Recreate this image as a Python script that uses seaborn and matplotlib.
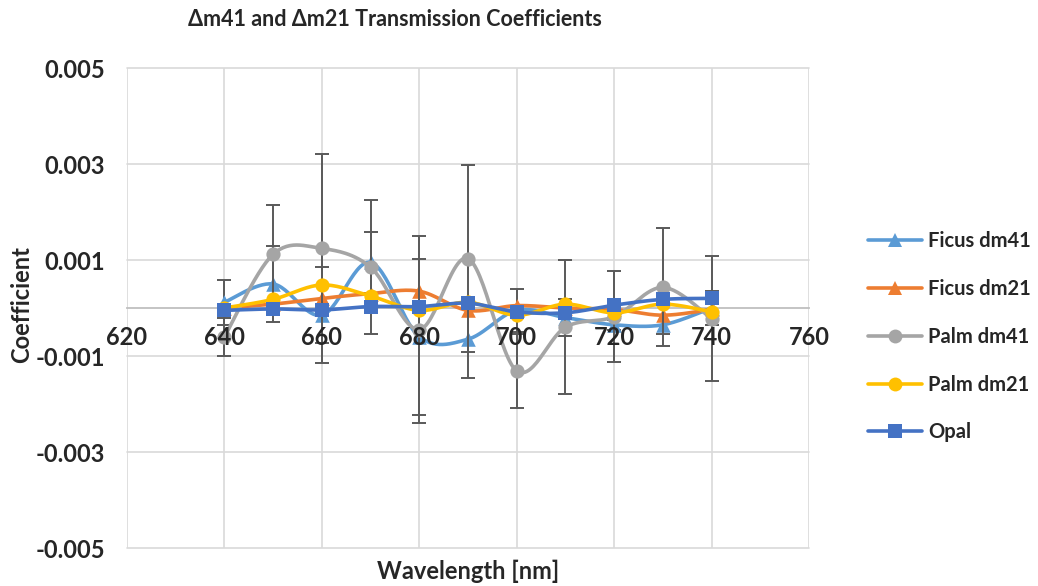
import numpy as np
import pandas as pd
import matplotlib
matplotlib.use("Agg")
import matplotlib.pyplot as plt
from matplotlib.lines import Line2D
from matplotlib.ticker import MultipleLocator, FixedLocator, StrMethodFormatter
import seaborn as sns

# values
wavelength = [640, 650, 660, 670, 680, 690, 700, 710, 720, 730, 740]
ficus_dm41 = [0.00012, 0.00050, -0.00015, 0.00095, -0.00060, -0.00065, -0.00005, -0.00020, -0.00035, -0.00035, 0.00000]
ficus_dm41_err = [0.00047, 0.00080, 0.00100, 0.00063, 0.00162, 0.00080, 0.00045, 0.00038, 0.00010, 0.00020, 0.00035]
ficus_dm21 = [0.00000, 0.00008, 0.00020, 0.00030, 0.00035, -0.00005, 0.00005, 0.00000, -0.00003, -0.00015, -0.00003]
palm_dm41 = [-0.00060, 0.00112, 0.00124, 0.00085, -0.00045, 0.00103, -0.00131, -0.00040, -0.00018, 0.00043, -0.00022]
palm_dm41_err = [0.00040, 0.00102, 0.00197, 0.00140, 0.00195, 0.00195, 0.00077, 0.00139, 0.00095, 0.00123, 0.00130]
palm_dm21 = [0.00000, 0.00018, 0.00048, 0.00025, -0.00005, 0.00012, -0.00015, 0.00008, -0.00010, 0.00008, -0.00008]
opal = [-0.00005, -0.00002, -0.00004, 0.00003, 0.00003, 0.00010, -0.00008, -0.00010, 0.00006, 0.00018, 0.00020]

x_ticks = [620, 640, 660, 680, 700, 720, 740, 760]
y_ticks = [-0.005, -0.003, -0.001, 0.001, 0.003, 0.005]

series = [
    ("Ficus dm41", ficus_dm41, ficus_dm41_err, "#5B9BD5", "^"),
    ("Ficus dm21", ficus_dm21, None, "#ED7D31", "^"),
    ("Palm dm41", palm_dm41, palm_dm41_err, "#A5A5A5", "o"),
    ("Palm dm21", palm_dm21, None, "#FFC000", "o"),
    ("Opal", opal, None, "#4472C4", "s"),
]


def smooth(x, y, n=30):
    # excel style smoothed line (bezier through the points)
    x = np.asarray(x, float)
    y = np.asarray(y, float)
    p = np.column_stack([x, y])
    pts = np.vstack([p[0], p, p[-1]])
    out = []
    t = np.linspace(0, 1, n)[:, None]
    for i in range(1, len(pts) - 2):
        p0, p1, p2, p3 = pts[i - 1], pts[i], pts[i + 1], pts[i + 2]
        c1 = p1 + (p2 - p0) / 6
        c2 = p2 - (p3 - p1) / 6
        seg = ((1 - t) ** 3) * p1 + 3 * ((1 - t) ** 2) * t * c1 + 3 * (1 - t) * t ** 2 * c2 + t ** 3 * p2
        out.append(seg)
    out = np.vstack(out)
    return out[:, 0], out[:, 1]


sns.set_theme(style="white")
plt.rcParams["font.family"] = ["Lato", "DejaVu Sans"]
plt.rcParams["font.weight"] = "bold"
plt.rcParams["axes.unicode_minus"] = False

fig = plt.figure(figsize=(10.38, 5.86), dpi=100)
ax = fig.add_axes([127 / 1038, 1 - 548 / 586, 682 / 1038, 480 / 586])

# gridlines drawn by hand so the tick labels can sit above the data
for xv in x_ticks:
    ax.axvline(xv, color="#D9D9D9", lw=1.2, zorder=0.5)
for yv in y_ticks:
    ax.axhline(yv, color="#D9D9D9", lw=1.2, zorder=0.5, clip_on=False)

handles = []
for k, (name, vals, err, col, mk) in enumerate(series):
    xs, ys = smooth(wavelength, vals)
    ax.plot(xs, ys, color=col, lw=2.6, zorder=3 + k, solid_capstyle="round")
    if err is not None:
        ax.errorbar(wavelength, vals, yerr=err, fmt="none", ecolor="#595959",
                    elinewidth=1.4, capsize=4.8, capthick=1.4, zorder=3 + k)
    df = pd.DataFrame({"wavelength": wavelength, "value": vals})
    size = {"^": 110, "o": 105, "s": 95}[mk]
    sns.scatterplot(data=df, x="wavelength", y="value", ax=ax, color=col, marker=mk,
                    s=size, linewidth=0, zorder=3.5 + k, legend=False)
    handles.append(Line2D([0], [0], color=col, lw=2.6, marker=mk, markersize=10,
                          markeredgewidth=0, label=name))

ax.set_xlabel("")
ax.set_ylabel("")
ax.set_xlim(620, 760)
ax.set_ylim(-0.005, 0.005)
ax.xaxis.set_major_locator(FixedLocator(x_ticks))
ax.xaxis.set_minor_locator(MultipleLocator(4))
ax.yaxis.set_major_locator(FixedLocator(y_ticks))
ax.yaxis.set_major_formatter(StrMethodFormatter("{x:.3f}"))
ax.xaxis.set_zorder(20)

for s in ["top", "right", "left"]:
    ax.spines[s].set_visible(False)
ax.spines["bottom"].set_position(("data", 0))
ax.spines["bottom"].set_color("#BFBFBF")
ax.spines["bottom"].set_linewidth(1.3)
ax.spines["bottom"].set_zorder(2)

ax.tick_params(axis="x", which="major", length=0, pad=13, labelsize=17)
ax.tick_params(axis="x", which="minor", length=5, width=1.2, color="#BFBFBF", direction="in")
ax.tick_params(axis="y", which="major", length=0, pad=16, labelsize=17)
for lab in ax.get_xticklabels() + ax.get_yticklabels():
    lab.set_fontweight("bold")

fig.text(468 / 1038, 1 - 571 / 586, "Wavelength [nm]", ha="center", va="center",
         fontsize=17, fontweight="bold")
fig.text(22 / 1038, 1 - 305 / 586, "Coefficient", ha="center", va="center",
         rotation=90, fontsize=17, fontweight="bold")

fig.text(395 / 1038, 1 - 19 / 586, "\u0394m41 and \u0394m21 Transmission Coefficients",
         ha="center", va="center", fontsize=15.5, fontweight="bold")

leg = ax.legend(handles=handles, loc="center left", bbox_to_anchor=(1.086, 0.44),
                frameon=False, fontsize=14.5, handlelength=2.7, handletextpad=0.3,
                labelspacing=1.38, borderaxespad=0, borderpad=0)
for t in leg.get_texts():
    t.set_fontweight("bold")

fig.savefig("out.png", dpi=100)
